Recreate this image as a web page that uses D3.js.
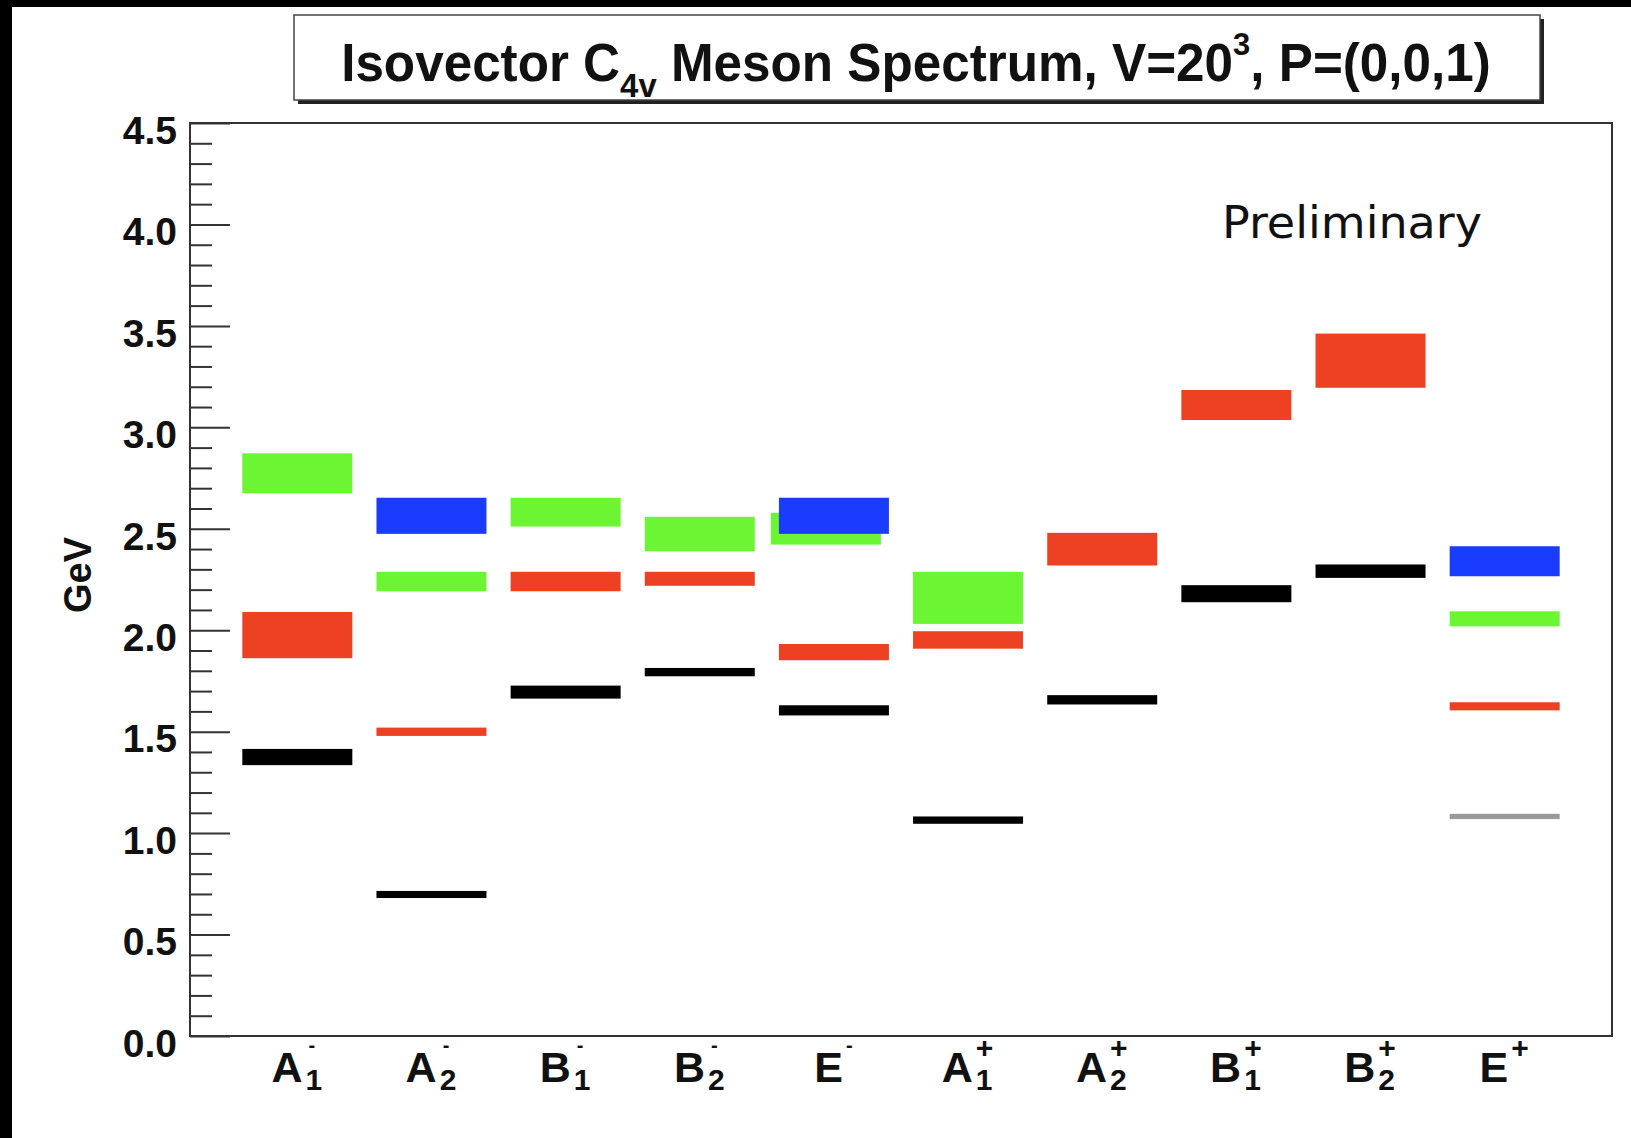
<!DOCTYPE html>
<html>
<head>
<meta charset="utf-8">
<script src="https://cdn.jsdelivr.net/npm/d3@7"></script>
<style>
  html, body { margin: 0; padding: 0; background: #000; }
  svg { display: block; }
  text { font-family: "Liberation Sans", Arial, sans-serif; }
</style>
</head>
<body>
<div id="chart"></div>
<script>
// irreps along the x axis
const categories = ["A1-", "A2-", "B1-", "B2-", "E-", "A1+", "A2+", "B1+", "B2+", "E+"];
const labelBase = ["A", "A", "B", "B", "E", "A", "A", "B", "B", "E"];
const labelSub = ["1", "2", "1", "2", "", "1", "2", "1", "2", ""];
const labelSup = ["-", "-", "-", "-", "-", "+", "+", "+", "+", "+"];

// energy levels [low, high] in GeV, one entry per irrep (null = none)
const blackLevels = [[1.335, 1.415], [0.680, 0.715], [1.663, 1.727], [1.773, 1.814], [1.580, 1.630],
                     [1.046, 1.082], [1.634, 1.680], [2.138, 2.222], [2.258, 2.324], null];
const grayLevels  = [null, null, null, null, null, null, null, null, null, [1.069, 1.095]];
const redLevels   = [[1.862, 2.090], [1.479, 1.520], [2.192, 2.288], [2.219, 2.288], [1.852, 1.932],
                     [1.909, 1.995], [2.319, 2.480], [3.036, 3.184], [3.195, 3.462], [1.605, 1.645]];
const greenLevels = [[2.675, 2.872], [2.192, 2.288], [2.511, 2.653], [2.389, 2.559], [2.422, 2.579],
                     [2.031, 2.288], null, null, null, [2.019, 2.093]];
const blueLevels  = [null, [2.475, 2.653], null, null, [2.475, 2.653],
                     null, null, null, null, [2.266, 2.414]];

const yMajorTicks = [0, 0.5, 1.0, 1.5, 2.0, 2.5, 3.0, 3.5, 4.0, 4.5];

const W = 1631, H = 1138;
const margin = { top: 123, right: 19, bottom: 102, left: 190 };
const width = W - margin.left - margin.right;
const height = H - margin.top - margin.bottom;

const svg = d3.select("#chart").append("svg")
    .attr("width", W)
    .attr("height", H);

// black strip on top / left edge of the picture
svg.append("rect").attr("width", W).attr("height", H).attr("fill", "#000");
svg.append("rect").attr("x", 12).attr("y", 7).attr("width", W - 12).attr("height", H - 7).attr("fill", "#fff");

const g = svg.append("g").attr("transform", `translate(${margin.left},${margin.top})`);

const x = d3.scaleLinear().domain([0.2, 10.8]).range([0, width]);
const y = d3.scaleLinear().domain([0, 4.5]).range([height, 0]);

// levels, drawn back to front
const series = [
    { name: "black", levels: blackLevels, color: "#000000" },
    { name: "gray", levels: grayLevels, color: "#9a9a9a" },
    { name: "red", levels: redLevels, color: "#ee4123" },
    { name: "green", levels: greenLevels, color: "#6cf532" },
    { name: "blue", levels: blueLevels, color: "#1a3cff" }
];
const halfWidth = 0.41;
const nudge = { "green|E-": -0.06 };

series.forEach(s => {
    const rows = s.levels
        .map((lv, i) => lv ? { i: i, lo: lv[0], hi: lv[1], shift: nudge[s.name + "|" + categories[i]] || 0 } : null)
        .filter(d => d);
    g.selectAll(".lvl-" + s.name)
        .data(rows)
        .enter()
        .append("rect")
        .attr("class", "lvl-" + s.name)
        .attr("x", d => x(d.i + 1 + d.shift - halfWidth))
        .attr("width", d => x(d.i + 1 + halfWidth) - x(d.i + 1 - halfWidth))
        .attr("y", d => y(d.hi))
        .attr("height", d => y(d.lo) - y(d.hi))
        .attr("fill", s.color);
});

// frame
g.append("rect")
    .attr("width", width)
    .attr("height", height)
    .attr("fill", "none")
    .attr("stroke", "#333")
    .attr("stroke-width", 2);

// y axis: ticks point into the frame
const minorTicks = d3.range(0, 46).filter(d => d % 5 !== 0).map(d => d / 10);
const yMinor = d3.axisLeft(y).tickValues(minorTicks).tickSize(-22).tickFormat("");
const yMajor = d3.axisLeft(y).tickValues(yMajorTicks).tickSize(-40).tickPadding(13).tickFormat(d3.format(".1f"));

g.append("g").attr("class", "y-minor").call(yMinor);
const yAxisGroup = g.append("g").attr("class", "y-major").call(yMajor);
g.selectAll(".y-minor .domain, .y-major .domain").remove();
g.selectAll(".y-minor line, .y-major line").attr("stroke", "#333").attr("stroke-width", 2);
yAxisGroup.selectAll("text")
    .attr("dy", "0.52em")
    .style("font-size", "39px")
    .style("font-weight", "bold")
    .attr("fill", "#111");

svg.append("text")
    .attr("transform", `translate(91,575) rotate(-90)`)
    .attr("text-anchor", "middle")
    .style("font-size", "38px")
    .style("font-weight", "bold")
    .attr("fill", "#111")
    .text("GeV");

// x axis labels: base letter, subscript, superscript stacked above it
const xAxis = d3.axisBottom(x).tickValues(d3.range(1, categories.length + 1)).tickSize(0).tickFormat("");
const xAxisGroup = g.append("g").attr("class", "x-axis").attr("transform", `translate(0,${height})`).call(xAxis);
xAxisGroup.select(".domain").remove();
xAxisGroup.selectAll(".tick").each(function (d) {
    const i = d - 1;
    const t = d3.select(this);
    t.select("text").remove();
    const lab = t.append("text")
        .attr("y", 46)
        .attr("text-anchor", "start")
        .style("font-weight", "bold")
        .attr("fill", "#111");
    lab.append("tspan").style("font-size", "43px").text(labelBase[i]);
    let back = 0;
    if (labelSub[i]) {
        const sub = lab.append("tspan").attr("dx", 3).attr("dy", 8).style("font-size", "30px").text(labelSub[i]);
        back = sub.node().getComputedTextLength();
    }
    const minus = labelSup[i] === "-";
    lab.append("tspan")
        .attr("dx", -back + (minus ? 3 : (labelSub[i] ? 0 : 3)))
        .attr("dy", labelSub[i] ? (minus ? -38 : -32) : (minus ? -30 : -24))
        .style("font-size", minus ? "20px" : "30px")
        .text(labelSup[i]);
    const bb = lab.node().getBBox();
    lab.attr("x", -bb.width / 2 - 1);
});

// title box
svg.append("rect").attr("x", 298).attr("y", 19).attr("width", 1246).attr("height", 85).attr("fill", "#222");
svg.append("rect").attr("x", 294).attr("y", 15).attr("width", 1246).attr("height", 85)
    .attr("fill", "#fff").attr("stroke", "#444").attr("stroke-width", 1.5);

const title = svg.append("text")
    .attr("text-anchor", "middle")
    .style("font-size", "53px")
    .style("font-weight", "bold")
    .attr("fill", "#111");
title.append("tspan").text("Isovector C");
title.append("tspan").attr("dy", 16).style("font-size", "34px").text("4v");
title.append("tspan").attr("dy", -16).text(" Meson Spectrum, V=20");
title.append("tspan").attr("dy", -26).style("font-size", "32px").text("3");
title.append("tspan").attr("dy", 26).text(", P=(0,0,1)");
const tw = title.node().getBBox().width;
title.attr("transform", `translate(916,81) scale(${1150 / tw},1)`);

svg.append("text")
    .attr("x", 1222).attr("y", 238)
    .attr("textLength", 260)
    .attr("lengthAdjust", "spacingAndGlyphs")
    .style("font-family", "'DejaVu Sans', sans-serif")
    .style("font-size", "44px")
    .attr("fill", "#111")
    .text("Preliminary");
</script>
</body>
</html>
